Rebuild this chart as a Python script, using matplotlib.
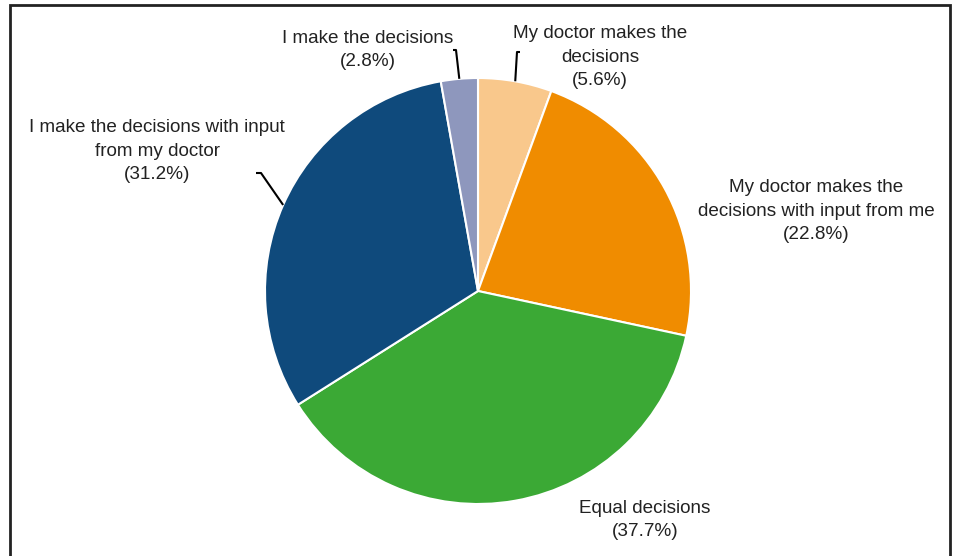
import matplotlib
matplotlib.use("Agg")
import matplotlib.pyplot as plt
import matplotlib.patches as mpatches
import numpy as np

# ---- data ----
categories = [
    "My doctor makes the\ndecisions",
    "My doctor makes the\ndecisions with input from me",
    "Equal decisions",
    "I make the decisions with input\nfrom my doctor",
    "I make the decisions",
]
values = [5.6, 22.8, 37.7, 31.2, 2.8]
colors = ["#F9C88C", "#F08C00", "#3BA935", "#0F4A7C", "#8E97BD"]

# ---- layout (pixel coordinates, y measured from top) ----
W, H = 955, 556
center_px = (478, 291)
radius_px = 213
label_pos = [(600, 57), (816, 211), (645, 520), (157, 151), (368, 50)]
leader_elbow = [(517, 52), None, None, (261, 173), (456, 50)]
hook_dx = [3, 0, 0, -5, -3]

fig = plt.figure(figsize=(W / 100, H / 100), dpi=100)
ax = fig.add_axes([0, 0, 1, 1])

def up(y):
    return H - y

wedges, _ = ax.pie(values, colors=colors, startangle=90, counterclock=False,
                   center=(center_px[0], up(center_px[1])), radius=radius_px,
                   wedgeprops=dict(edgecolor="white", linewidth=1.5),
                   frame=True)
ax.set_xlim(0, W)
ax.set_ylim(0, H)
ax.set_aspect("equal")
ax.axis("off")

for w, cat, val, pos, elbow, hd in zip(wedges, categories, values, label_pos, leader_elbow, hook_dx):
    ax.text(pos[0], up(pos[1]), f"{cat}\n({val}%)", ha="center", va="center",
            fontsize=13.6, family=["Liberation Sans", "DejaVu Sans"], color="#222222",
            linespacing=1.5)
    if elbow is not None:
        mid = np.deg2rad((w.theta1 + w.theta2) / 2)
        ex = center_px[0] + radius_px * np.cos(mid)
        ey = up(center_px[1]) + radius_px * np.sin(mid)
        ax.plot([ex, elbow[0], elbow[0] + hd], [ey, up(elbow[1]), up(elbow[1])],
                color="black", lw=1.5, solid_capstyle="butt")

# frame around figure
fig.patches.append(mpatches.Rectangle((10 / W, -0.05), (950 - 10) / W, (H - 5) / H + 0.05,
                                      transform=fig.transFigure, fill=False,
                                      edgecolor="#222222", linewidth=2))

fig.savefig("out.png", dpi=100)
